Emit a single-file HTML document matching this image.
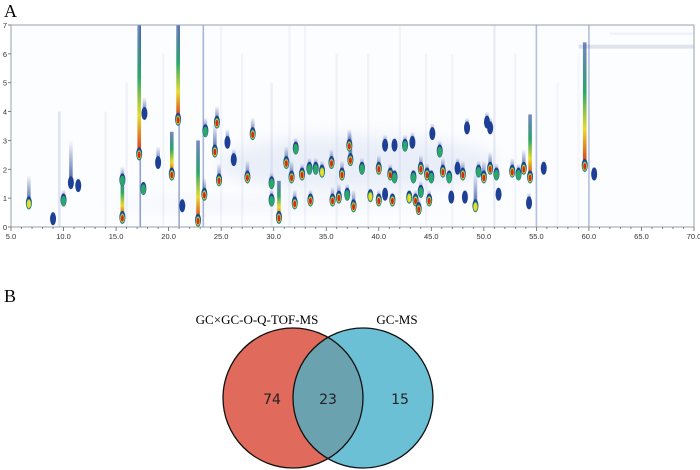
<!DOCTYPE html>
<html><head><meta charset="utf-8">
<style>
body{margin:0;background:#fff;width:700px;height:470px;overflow:hidden;font-family:"Liberation Serif",serif;}
svg{display:block}
</style></head>
<body>
<svg id="root" width="700" height="470" viewBox="0 0 700 470">
  <defs>
    <filter id="blur3" x="-50%" y="-50%" width="200%" height="200%"><feGaussianBlur stdDeviation="8"/></filter>
    <linearGradient id="tailg" x1="0" y1="1" x2="0" y2="0">
      <stop offset="0" stop-color="#1d3f95" stop-opacity="0.85"/>
      <stop offset="1" stop-color="#1d3f95" stop-opacity="0"/>
    </linearGradient>
    <linearGradient id="tailgg" x1="0" y1="1" x2="0" y2="0">
      <stop offset="0" stop-color="#d8281a"/>
      <stop offset="0.3" stop-color="#e8dc2a"/>
      <stop offset="0.6" stop-color="#2aa868"/>
      <stop offset="1" stop-color="#1d3f95" stop-opacity="0.6"/>
    </linearGradient>
    <clipPath id="plotclip"><rect x="11" y="25" width="683" height="202"/></clipPath>
    <clipPath id="leftc"><circle cx="293" cy="398" r="70"/></clipPath>
  </defs>
  <text x="4" y="17" font-size="18" font-family="Liberation Serif">A</text>
  <g id="chart"></g>
  <text x="4" y="302" font-size="18" font-family="Liberation Serif">B</text>
  <g>
    <circle cx="293" cy="398" r="70" fill="#e06a5b"/>
    <circle cx="363" cy="398" r="70" fill="#6cc0d6"/>
    <circle cx="363" cy="398" r="70" fill="#6aa2b0" clip-path="url(#leftc)"/>
    <circle cx="293" cy="398" r="70" fill="none" stroke="#111" stroke-width="1.3"/>
    <circle cx="363" cy="398" r="70" fill="none" stroke="#111" stroke-width="1.3"/>
    <text x="257" y="324" font-size="13" text-anchor="middle" font-family="Liberation Serif">GC×GC-O-Q-TOF-MS</text>
    <text x="397" y="324" font-size="13" text-anchor="middle" font-family="Liberation Serif">GC-MS</text>
    <text x="272" y="404" font-size="14" text-anchor="middle" font-family="DejaVu Sans, sans-serif" fill="#222">74</text>
    <text x="328" y="404" font-size="14" text-anchor="middle" font-family="DejaVu Sans, sans-serif" fill="#222">23</text>
    <text x="400" y="404" font-size="14" text-anchor="middle" font-family="DejaVu Sans, sans-serif" fill="#222">15</text>
  </g>
</svg>
<script>
const xTicks = [5,10,15,20,25,30,35,40,45,50,55,60,65,70];
const yTicks = [0,1,2,3,4,5,6,7];
const peakT = [6.7,9.0,10.0,10.7,11.4,15.6,15.6,17.2,17.6,17.7,19.0,20.3,20.9,21.3,22.8,23.4,23.5,24.4,24.6,24.8,25.6,26.2,27.5,28.0,29.8,29.8,30.5,31.2,31.7,32.0,32.1,32.7,33.4,33.5,34.0,34.6,35.5,35.6,36.2,36.5,37.3,37.0,37.2,37.6,38.4,39.2,40.0,40.0,40.6,40.6,41.1,41.3,41.5,41.5,42.5,42.9,43.2,43.3,43.5,43.8,44.0,44.0,44.8,44.6,45.1,45.0,45.8,46.1,46.7,46.9,47.5,48.0,48.2,48.4,49.2,49.5,50.0,50.3,50.6,50.6,51.2,51.4,52.7,53.3,53.8,54.3,54.4,55.7,59.6,60.5];
const peakY = [0.8,0.25,0.9,1.5,1.4,0.3,1.6,2.5,1.3,3.9,2.2,1.8,3.7,0.7,0.2,1.1,3.3,2.6,3.6,1.6,2.9,2.3,1.7,3.2,1.5,0.9,0.3,2.2,1.7,0.8,2.7,1.8,2.0,0.9,2.0,1.9,2.2,0.9,1.0,1.8,2.3,1.1,2.8,0.7,2.0,1.05,2.0,0.9,2.8,1.1,1.8,0.9,2.8,1.7,2.8,1.0,2.9,1.7,0.9,0.6,2.0,1.2,0.9,1.8,3.2,1.7,2.6,1.9,1.7,1.0,2.0,1.8,1.0,3.4,0.7,1.9,1.7,3.6,2.0,3.4,1.8,1.1,1.9,1.8,2.0,0.8,1.7,2.0,2.1,1.8];
const peakLevel = [2,0,1,0,0,3,1,3,1,0,0,3,3,0,3,3,1,3,3,3,0,0,3,3,1,1,3,3,3,3,1,3,1,3,1,2,3,3,3,3,3,1,3,3,1,2,3,3,0,0,3,3,0,1,1,2,0,1,3,3,3,1,3,3,0,1,1,3,1,0,0,3,0,0,2,1,3,0,3,0,1,0,3,1,3,0,3,0,3,0];
const peakTail = [1.0,0.3,0.4,1.5,0.3,1.5,0.5,4.5,0.3,0.6,0.6,1.5,3.3,0.3,2.8,0.6,0.5,1.0,0.6,0.6,0.5,0.4,0.6,0.6,0.4,0.4,1.3,0.6,0.6,0.5,0.4,0.4,0.4,0.4,0.4,0.4,0.5,0.5,0.5,0.5,1.0,0.4,0.6,0.6,0.4,0.3,0.5,0.4,0.4,0.3,0.4,0.3,0.3,0.3,0.4,0.3,0.4,0.3,0.4,0.4,0.5,0.4,0.4,0.4,0.4,0.3,0.4,0.5,0.3,0.3,0.4,0.5,0.3,0.4,1.2,0.4,0.6,0.4,0.6,0.4,0.4,0.3,0.5,0.4,0.7,0.4,2.2,0.3,4.3,0.3];
const streakT = [17.3,21.0,23.3,55.0,60.0,9.6,14.0,16.0,19.5,25.0,27.0,29.8,31.5,33.0,36.0,39.0,42.0,44.5,47.0,51.0,53.0,57.0,59.0];
const streakTop = [7,7,7,7,7,4,4,5,6,7,6,5,7,7,6,6,7,6,6,7,6,5,6];
const streakAlpha = [0.5,0.45,0.4,0.35,0.35,0.15,0.06,0.06,0.05,0.05,0.05,0.08,0.05,0.05,0.05,0.05,0.05,0.05,0.05,0.1,0.05,0.04,0.04];

const NS='http://www.w3.org/2000/svg';
const chart=document.getElementById('chart');
const X0=11,X1=694,Y0=227,Y1=25;
const xs=t=>X0+(t-5)*(X1-X0)/65;
const ys=v=>Y0-v*(Y0-Y1)/7;
function mk(tag,attrs,parent){const e=document.createElementNS(NS,tag);for(const k in attrs)e.setAttribute(k,attrs[k]);(parent||chart).appendChild(e);return e;}

const plot=mk('g',{'clip-path':'url(#plotclip)'});


mk('rect',{x:X0,y:Y1,width:X1-X0,height:Y0-Y1,fill:'#fcfdff'},plot);
mk('ellipse',{cx:xs(38),cy:ys(2.2),rx:140,ry:28,fill:'#d3ddf0',opacity:0.45,filter:'url(#blur3)'},plot);
mk('ellipse',{cx:xs(30),cy:ys(0.8),rx:170,ry:6,fill:'#dfe6f3',opacity:0.4,filter:'url(#blur3)'},plot);
mk('rect',{x:xs(59),y:ys(6.25)-2,width:X1-xs(59),height:4,fill:'#dfe3ee'},plot);
mk('rect',{x:xs(62),y:ys(6.7)-1,width:X1-xs(62),height:2,fill:'#eceff5'},plot);

streakT.forEach((t,i)=>{
  const w=i<5?1.6:2.4;
  const r=mk('rect',{x:xs(t)-w/2,y:ys(streakTop[i]),width:w,height:ys(0)-ys(streakTop[i]),fill:'#2a4aa0',opacity:streakAlpha[i]},plot);
  
  
});

const cols=['#1d3f95','#2aa868','#e8dc2a','#d8281a'];
const sizes=[[3.0,6.5],[2.5,5.2],[2.0,4.1],[1.5,3.3]];
peakT.forEach((t,i)=>{
  const g=mk('g',{},plot);
  
  
  const cx=xs(t),cy=ys(peakY[i]);
  const tailTop=ys(peakY[i]+peakTail[i]);
  const strong=peakLevel[i]>=2 && peakTail[i]>1.2;
  mk('rect',{x:cx-1.8,y:tailTop,width:3.6,height:cy-tailTop,fill:strong?'url(#tailgg)':'url(#tailg)'},g);
  for(let l=0;l<=peakLevel[i];l++){
    mk('ellipse',{cx:cx,cy:cy-(l===0?1:0),rx:sizes[l][0],ry:sizes[l][1],fill:cols[l]},g);
  }
});
mk('rect',{x:X0,y:Y1,width:X1-X0,height:Y0-Y1,fill:'none',stroke:'#9aa0aa','stroke-width':1});

const ax=mk('g',{});


for(let t=5;t<=70;t+=1){
  mk('line',{x1:xs(t),x2:xs(t),y1:Y0,y2:Y0+(t%5===0?4:2),stroke:'#666','stroke-width':0.8},ax);
}
xTicks.forEach(t=>{
  const e=mk('text',{x:xs(t),y:Y0+12,'font-size':7.5,'text-anchor':'middle','font-family':'Liberation Sans, sans-serif',fill:'#333'},ax);
  e.textContent=t.toFixed(1);
  
  
});
const ay=mk('g',{});


yTicks.forEach(v=>{
  mk('line',{x1:X0-3,x2:X0,y1:ys(v),y2:ys(v),stroke:'#666','stroke-width':0.8},ay);
  const e=mk('text',{x:X0-6,y:ys(v)+3,'font-size':7.5,'text-anchor':'middle','font-family':'Liberation Sans, sans-serif',fill:'#333'},ay);
  e.textContent=v;
  
  
});
</script>
</body></html>
